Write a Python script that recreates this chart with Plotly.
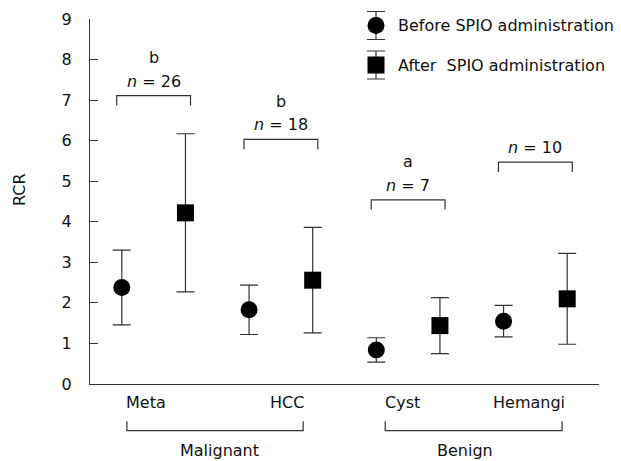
import plotly.graph_objects as go

# ---- data ----
categories = ["Meta", "HCC", "Cyst", "Hemangi"]
before_mean = [2.38, 1.83, 0.84, 1.55]
before_err = [0.92, 0.61, 0.30, 0.39]
after_mean = [4.22, 2.56, 1.44, 2.10]
after_err = [1.95, 1.30, 0.69, 1.12]
n_labels = ["26", "18", "7", "10"]
sig_labels = ["b", "b", "a", ""]
groups = ["Malignant", "Benign"]
y_ticks = [0, 1, 2, 3, 4, 5, 6, 7, 8, 9]

# ---- layout helpers (positions, not data) ----
bracket_y = [7.11, 6.03, 4.54, 5.47]
cat_label_x = [1.38, 3.60, 5.41, 7.40]
group_span = [(1.08, 3.85), (5.14, 7.92)]
group_label_x = [2.53, 6.40]

x_before = [2 * i + 1 for i in range(len(categories))]
x_after = [2 * i + 2 for i in range(len(categories))]

FONT = "DejaVu Sans, Verdana, sans-serif"
INK = "#111111"
LINE = "#333333"

W, H = 621, 461
ML, MR, MT, MB = 90, 22, 19, 77
pw, ph = W - ML - MR, H - MT - MB


def px_to_paper(px, py):
    return (px - ML) / pw, (H - MB - py) / ph


fig = go.Figure()

err_style = dict(type="data", symmetric=True, color=LINE, thickness=1.2, width=9)

fig.add_trace(go.Scatter(
    x=x_before, y=before_mean, mode="markers",
    marker=dict(symbol="circle", size=17, color="black"),
    error_y=dict(array=before_err, **err_style),
    name="Before SPIO administration", showlegend=False))
fig.add_trace(go.Scatter(
    x=x_after, y=after_mean, mode="markers",
    marker=dict(symbol="square", size=17, color="black"),
    error_y=dict(array=after_err, **err_style),
    name="After  SPIO administration", showlegend=False))

shapes = []
annotations = []

# significance brackets above each pair
for i, cat in enumerate(categories):
    x0 = x_before[i] - 0.08
    x1 = x_after[i] + 0.08
    yb = bracket_y[i]
    shapes.append(dict(type="path", xref="x", yref="y",
                       path=f"M {x0},{yb - 0.24} L {x0},{yb} L {x1},{yb} L {x1},{yb - 0.24}",
                       line=dict(color=LINE, width=1.2)))
    xc = (x0 + x1) / 2
    annotations.append(dict(x=xc, y=yb + 0.36, xref="x", yref="y",
                            text=f"<i>n</i> = {n_labels[i]}", showarrow=False,
                            font=dict(family=FONT, size=16, color=INK),
                            xanchor="center", yanchor="middle"))
    if sig_labels[i]:
        annotations.append(dict(x=xc, y=yb + 0.94, xref="x", yref="y",
                                text=sig_labels[i], showarrow=False,
                                font=dict(family=FONT, size=16, color=INK),
                                xanchor="center", yanchor="middle"))
    # category label
    annotations.append(dict(x=cat_label_x[i], y=-0.052, xref="x", yref="paper",
                            text=cat, showarrow=False,
                            font=dict(family=FONT, size=16, color=INK),
                            xanchor="center", yanchor="middle"))

# group brackets below axis
for (g0, g1), gx, gname in zip(group_span, group_label_x, groups):
    shapes.append(dict(type="path", xref="x", yref="paper",
                       path=f"M {g0},-0.102 L {g0},-0.128 L {g1},-0.128 L {g1},-0.102",
                       line=dict(color=LINE, width=1.2)))
    annotations.append(dict(x=gx, y=-0.183, xref="x", yref="paper",
                            text=gname, showarrow=False,
                            font=dict(family=FONT, size=16, color=INK),
                            xanchor="center", yanchor="middle"))

# custom legend (marker with error bar), placed in pixel terms
legend_items = [("circle", "Before SPIO administration", 25.5),
                ("square", "After  SPIO administration", 65.0)]
LEG_X, LEG_HALF, CAP_HALF, TEXT_X = 376, 14, 9, 396
for sym, label, py in legend_items:
    cx, cy = px_to_paper(LEG_X, py)
    fig.add_trace(go.Scatter(
        x=[cx], y=[cy], xaxis="x2", yaxis="y2", mode="markers",
        marker=dict(symbol=sym, size=17, color="black"),
        showlegend=False, hoverinfo="skip", cliponaxis=False))
    xl, yt = px_to_paper(LEG_X - CAP_HALF, py - LEG_HALF)
    xr, yb_ = px_to_paper(LEG_X + CAP_HALF, py + LEG_HALF)
    shapes.append(dict(type="path", xref="paper", yref="paper", layer="below",
                       path=(f"M {cx},{yt} L {cx},{yb_} "
                             f"M {xl},{yt} L {xr},{yt} "
                             f"M {xl},{yb_} L {xr},{yb_}"),
                       line=dict(color=LINE, width=1.2)))
    tx, ty = px_to_paper(TEXT_X, py)
    annotations.append(dict(x=tx, y=ty, xref="paper", yref="paper",
                            text=label.replace("  ", "&nbsp; "), showarrow=False,
                            font=dict(family=FONT, size=16, color=INK),
                            xanchor="left", yanchor="middle"))

# y-axis title
rx, ry = px_to_paper(19, 190)
annotations.append(dict(x=rx, y=ry, xref="paper", yref="paper", text="RCR",
                        showarrow=False, textangle=-90,
                        font=dict(family=FONT, size=16, color=INK),
                        xanchor="center", yanchor="middle"))

fig.update_layout(
    width=W, height=H,
    margin=dict(l=ML, r=MR, t=MT, b=MB, pad=0, autoexpand=False),
    paper_bgcolor="white", plot_bgcolor="white",
    font=dict(family=FONT, size=16, color=INK),
    showlegend=False,
    shapes=shapes, annotations=annotations,
    xaxis=dict(range=[0.5, 8.5], showline=True, linecolor=LINE, linewidth=1.2,
               showgrid=False, zeroline=False, ticks="", showticklabels=False,
               fixedrange=True),
    yaxis=dict(range=[0, 9], tickvals=y_ticks, ticktext=[str(v) for v in y_ticks],
               showline=True, linecolor=LINE, linewidth=1.2,
               ticks="inside", ticklen=8, tickwidth=1.2, tickcolor=LINE,
               ticklabelstandoff=14,
               showgrid=False, zeroline=False,
               tickfont=dict(family=FONT, size=16, color=INK), fixedrange=True),
    xaxis2=dict(range=[0, 1], overlaying="x", visible=False, fixedrange=True),
    yaxis2=dict(range=[0, 1], overlaying="y", visible=False, fixedrange=True),
)

fig.write_html(
    "out.html",
    config={"displayModeBar": False},
    post_script="document.body.style.margin='0';document.body.style.overflow='hidden';",
)
